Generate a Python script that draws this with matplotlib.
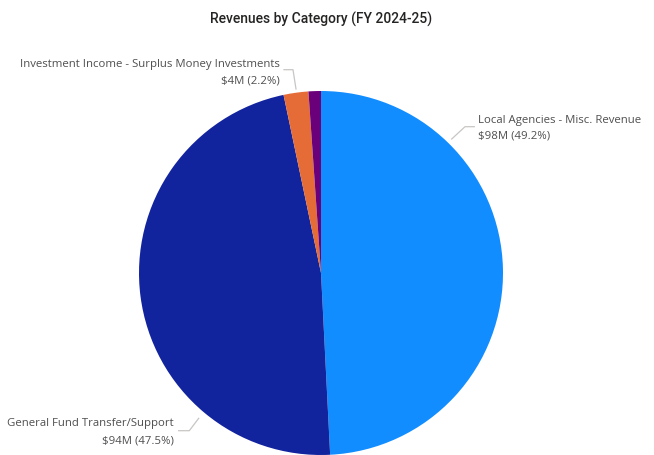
import matplotlib
matplotlib.use("Agg")
import matplotlib.pyplot as plt

# données
categories = ["Local Agencies - Misc. Revenue", "General Fund Transfer/Support",
              "Investment Income - Surplus Money Investments", "Other"]
amounts = ["$98M", "$94M", "$4M", ""]
shares = [49.2, 47.5, 2.2, 1.1]
colors = ["#118DFF", "#12239E", "#E66C37", "#6B007B"]

W, H = 654, 456


def yi(y):
    # coordonnée image (origine en haut) -> coordonnée axe
    return H - y


fig = plt.figure(figsize=(W / 100, H / 100), dpi=100)
ax = fig.add_axes([0, 0, 1, 1])

ax.pie(shares, colors=colors, startangle=90, counterclock=False,
       center=(321, yi(274)), radius=182, frame=True,
       wedgeprops=dict(linewidth=0))
ax.set_xlim(0, W)
ax.set_ylim(0, H)
ax.set_aspect("equal")
ax.axis("off")

# titre
ax.text(321, yi(19.5), "Revenues by Category (FY 2024-25)", ha="center", va="center",
        fontsize=10, fontweight="medium", color="#252423", family="Roboto")

txt_col = "#4F4F4F"
line_col = "#C8C6C4"
fs = 8.2
fam = "Open Sans"

# étiquettes + traits de rappel
# Local Agencies
ax.plot([451.7, 465, 474.3], [yi(140), yi(127.7), yi(127.7)], color=line_col, lw=0.9)
ax.text(478, yi(120.7), categories[0], ha="left", va="center", fontsize=fs, color=txt_col, family=fam)
ax.text(478, yi(135.5), f"{amounts[0]} ({shares[0]}%)", ha="left", va="center", fontsize=fs, color=txt_col, family=fam)

# General Fund
ax.plot([198.7, 189.3, 178.7], [yi(419.3), yi(431.7), yi(431.7)], color=line_col, lw=0.9)
ax.text(174, yi(424), categories[1], ha="right", va="center", fontsize=fs, color=txt_col, family=fam)
ax.text(174, yi(441), f"{amounts[1]} ({shares[1]}%)", ha="right", va="center", fontsize=fs, color=txt_col, family=fam)

# Investment Income
ax.plot([284, 293, 296], [yi(70.7), yi(70.7), yi(90)], color=line_col, lw=0.9)
ax.text(280, yi(64), categories[2], ha="right", va="center", fontsize=fs, color=txt_col, family=fam)
ax.text(280, yi(80.7), f"{amounts[2]} ({shares[2]}%)", ha="right", va="center", fontsize=fs, color=txt_col, family=fam)

fig.savefig("out.png", dpi=100)
